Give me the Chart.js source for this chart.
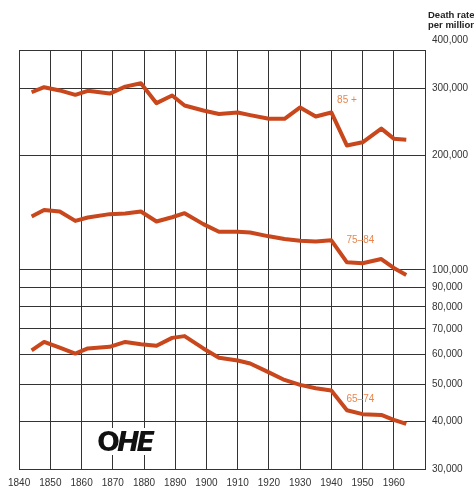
<!DOCTYPE html>
<html lang="en">
<head>
<meta charset="UTF-8">
<title>Death rate per million, by age group</title>
<script src="https://cdn.jsdelivr.net/npm/chart.js"></script>
<style>
  body { margin: 0; background: #fff; }
  #wrap { position: relative; width: 474px; height: 488px; overflow: hidden; }
  #unit {
    position: absolute; left: 428px; top: 10px;
    font: bold 9.5px "Liberation Sans", Arial, sans-serif; line-height: 9.5px;
    color: #222; white-space: nowrap;
  }
  #logo {
    position: absolute; left: 95px; top: 428px; padding: 0 2px;
    background: #fff; color: #111;
    font: bold 27px "DejaVu Sans", sans-serif; line-height: 27px; letter-spacing: -3px;
  }
  #logo i { font-style: italic; }
</style>
</head>
<body>
<div id="wrap">
  <canvas id="rates" width="474" height="488"></canvas>
  <div id="unit">Death rate<br>per million</div>
  <div id="logo">O<i>HE</i></div>
</div>
<script>
// years the readings are plotted at
const years = [1844, 1848, 1853, 1858, 1862, 1869, 1874, 1879, 1884, 1889, 1893, 1899, 1904,
               1910, 1914, 1920, 1925, 1930, 1935, 1940, 1945, 1950, 1956, 1960, 1964];

// deaths per million, by age group
const age85plus = [292800, 301800, 296000, 288200, 295300, 290400, 302900, 309200, 274100, 287000, 270200, 262200, 256600,
                   259100, 255000, 249400, 249400, 267000, 252900, 259100, 212100, 216300, 234900, 221100, 219800];
const age75to84 = [138100, 143700, 142300, 134500, 137300, 140100, 140600, 142300, 134000, 137500, 140900, 131900, 125900,
                   125900, 125400, 122500, 120500, 119300, 118800, 119600, 104700, 104100, 106800, 101200, 97000];
const age65to74 = [61500, 64700, 62500, 60300, 62200, 62800, 64700, 63800, 63200, 66300, 67000, 62200, 58800,
                   57800, 56800, 53800, 51400, 49900, 48900, 48200, 42800, 41800, 41600, 40400, 39400];

const seriesNames = ['85 +', '75–84', '65–74'];
const yTicks = [30000, 40000, 50000, 60000, 70000, 80000, 90000, 100000, 200000, 300000, 400000];

// where each group name sits, in year / rate terms
const nameAnchors = [[1945, 278500], [1949.3, 119300], [1949.3, 45750]];

const Y_TOP = 378000;
const RED = '#c9471c';
const NAME_COLOR = '#e8864e';
const GRID = '#333';
const FONT = { family: '"Liberation Sans", Arial, sans-serif', size: 10 };

// closes the box along the top of the plot
const frame = {
  id: 'frame',
  beforeDatasetsDraw(chart) {
    const { ctx, chartArea: a } = chart;
    ctx.save();
    ctx.strokeStyle = GRID;
    ctx.lineWidth = 1;
    ctx.beginPath();
    ctx.moveTo(a.left, a.top + 0.5);
    ctx.lineTo(a.right, a.top + 0.5);
    ctx.stroke();
    ctx.restore();
  }
};

const seriesLabels = {
  id: 'seriesLabels',
  afterDatasetsDraw(chart) {
    const { ctx, scales } = chart;
    ctx.save();
    ctx.fillStyle = NAME_COLOR;
    ctx.font = `${FONT.size}px ${FONT.family}`;
    ctx.textAlign = 'center';
    ctx.textBaseline = 'middle';
    seriesNames.forEach((name, i) => {
      const [yr, v] = nameAnchors[i];
      ctx.fillText(name, scales.x.getPixelForValue(yr), scales.y.getPixelForValue(v));
    });
    ctx.restore();
  }
};

const toPoints = vals => years.map((x, i) => ({ x, y: vals[i] }));

new Chart(document.getElementById('rates'), {
  type: 'line',
  data: {
    datasets: [age85plus, age75to84, age65to74].map((vals, i) => ({
      label: seriesNames[i],
      data: toPoints(vals),
      borderColor: RED,
      borderWidth: 4,
      borderJoinStyle: 'round',
      pointRadius: 0,
      tension: 0,
      fill: false
    }))
  },
  options: {
    responsive: false,
    animation: false,
    layout: { padding: { left: 18, top: 50, right: 0, bottom: 0 } },
    plugins: { legend: { display: false }, tooltip: { enabled: false } },
    scales: {
      x: {
        type: 'linear', min: 1840, max: 1970,
        afterFit: s => { s.height = 19; },
        ticks: {
          stepSize: 10, padding: 8, color: '#333', font: FONT,
          maxRotation: 0, autoSkip: false,
          callback: v => (v < 1970 ? String(v) : '')
        },
        grid: { color: GRID, lineWidth: 1, drawTicks: false },
        border: { color: GRID, width: 1 }
      },
      y: {
        type: 'logarithmic', position: 'right', min: 30000, max: Y_TOP,
        afterBuildTicks: s => { s.ticks = yTicks.map(v => ({ value: v })); },
        afterFit: s => { s.width = 49; },
        ticks: {
          autoSkip: false, padding: 7, color: '#333', font: FONT,
          callback: v => Number(v).toLocaleString('en-US')
        },
        grid: {
          color: c => (c.tick && c.tick.value > Y_TOP ? 'rgba(0,0,0,0)' : GRID),
          lineWidth: 1, drawTicks: false
        },
        border: { color: GRID, width: 1 }
      }
    }
  },
  plugins: [frame, seriesLabels]
});
</script>
</body>
</html>
